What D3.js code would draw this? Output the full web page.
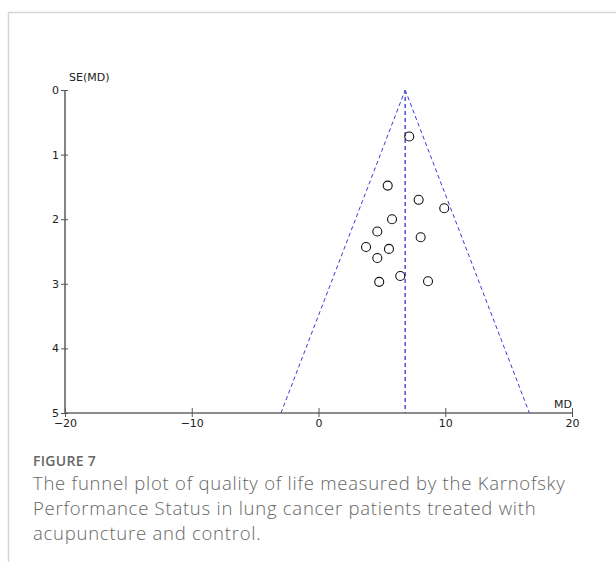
<!DOCTYPE html>
<html lang="en">
<head>
    <meta charset="utf-8">
    <title>Funnel plot</title>
    <script src="https://d3js.org/d3.v7.min.js"></script>
    <style>
        body { margin: 0; background: #fff; }
        svg text { font-family: "DejaVu Sans", Verdana, sans-serif; }
        .caption { font-family: "Open Sans", sans-serif; fill: #666; }
    </style>
</head>
<body>
    <svg></svg>

    <script>
        // study estimates: mean difference and its SE
        var md = [7.16, 5.46, 7.90, 9.92, 5.80, 4.64, 8.06, 3.75, 5.56, 4.64, 6.45, 4.79, 8.64];
        var se = [0.72, 1.48, 1.70, 1.83, 2.00, 2.19, 2.28, 2.43, 2.46, 2.60, 2.88, 2.97, 2.96];
        var pooledMD = 6.84;
        var xTicks = [-20, -10, 0, 10, 20];
        var yTicks = [0, 1, 2, 3, 4, 5];
        var captionTitle = "FIGURE 7";
        var captionLines = [
            "The funnel plot of quality of life measured by the Karnofsky",
            "Performance Status in lung cancer patients treated with",
            "acupuncture and control."
        ];

        var width = 616;
        var height = 562;
        var plot = { left: 65, right: 572, top: 90, bottom: 413 };

        var svg = d3.select("svg")
            .attr("width", width)
            .attr("height", height);

        // frame lines of the figure panel
        svg.append("line")
            .attr("x1", 8.5).attr("x2", width)
            .attr("y1", 12.5).attr("y2", 12.5)
            .attr("stroke", "#d6d6d6").attr("stroke-width", 1.5);
        svg.append("line")
            .attr("x1", 8.5).attr("x2", 8.5)
            .attr("y1", 12).attr("y2", height)
            .attr("stroke", "#d6d6d6").attr("stroke-width", 1.5);

        var xscale = d3.scaleLinear()
            .domain([-20, 20])
            .range([plot.left, plot.right]);
        var yscale = d3.scaleLinear()
            .domain([0, 5])
            .range([plot.top, plot.bottom]);

        // funnel (95% pseudo confidence limits)
        var funnel = [
            [pooledMD - 1.96 * 5, 5],
            [pooledMD, 0],
            [pooledMD + 1.96 * 5, 5]
        ];
        var line = d3.line()
            .x(function (d) { return xscale(d[0]); })
            .y(function (d) { return yscale(d[1]); });

        svg.append("path")
            .datum(funnel.slice(0, 2))
            .attr("d", line)
            .attr("fill", "none")
            .attr("stroke", "#3a3ad6")
            .attr("stroke-width", 1)
            .attr("stroke-dasharray", "4,3");
        svg.append("path")
            .datum(funnel.slice(1))
            .attr("d", line)
            .attr("fill", "none")
            .attr("stroke", "#3a3ad6")
            .attr("stroke-width", 1)
            .attr("stroke-dasharray", "4,3");
        svg.append("path")
            .datum([[pooledMD, 0], [pooledMD, 5]])
            .attr("d", line)
            .attr("fill", "none")
            .attr("stroke", "#5a5ae0")
            .attr("stroke-width", 1.6)
            .attr("stroke-dasharray", "4,3");

        // axes
        var xaxis = d3.axisBottom(xscale)
            .tickValues(xTicks)
            .tickSize(4)
            .tickFormat(d3.format("d"));
        var yaxis = d3.axisLeft(yscale)
            .tickValues(yTicks)
            .tickSize(4)
            .tickFormat(d3.format("d"));

        var gx = svg.append("g")
            .attr("transform", "translate(0," + plot.bottom + ")")
            .call(xaxis);
        var gy = svg.append("g")
            .attr("transform", "translate(" + plot.left + ",0)")
            .call(yaxis);

        [gx, gy].forEach(function (g) {
            g.select(".domain").attr("stroke", "#666").attr("stroke-width", 1.6);
            g.selectAll(".tick line").attr("stroke", "#555");
            g.selectAll(".tick text")
                .attr("fill", "#222")
                .style("font-size", "11px");
        });
        gx.select(".domain").attr("d", "M" + plot.left + ",0H" + plot.right);
        gy.select(".domain").attr("d", "M0," + plot.top + "V" + plot.bottom);
        // ticks cross the axis line
        gx.selectAll(".tick line").attr("y1", -5).attr("y2", 4);
        gy.selectAll(".tick line").attr("x1", 3).attr("x2", -4);
        gx.selectAll(".tick text").attr("y", 6);
        gy.selectAll(".tick text").attr("x", -6);

        svg.append("text")
            .attr("x", plot.left + 4)
            .attr("y", plot.top - 9)
            .style("font-size", "11px")
            .attr("fill", "#222")
            .text("SE(MD)");
        svg.append("text")
            .attr("x", plot.right)
            .attr("y", plot.bottom - 5)
            .attr("text-anchor", "end")
            .style("font-size", "11px")
            .attr("fill", "#222")
            .text("MD");

        // studies
        svg.selectAll("circle.study")
            .data(md)
            .enter()
            .append("circle")
            .attr("class", "study")
            .attr("cx", function (d) { return xscale(d); })
            .attr("cy", function (d, i) { return yscale(se[i]); })
            .attr("r", 4.5)
            .attr("fill", "none")
            .attr("stroke", "#111")
            .attr("stroke-width", 1.1);

        // caption
        svg.append("text")
            .attr("class", "caption")
            .attr("x", 33)
            .attr("y", 466)
            .style("font-size", "14px")
            .style("font-weight", 600)
            .style("letter-spacing", "0.3px")
            .text(captionTitle);
        svg.selectAll("text.cap-line")
            .data(captionLines)
            .enter()
            .append("text")
            .attr("class", "caption cap-line")
            .attr("x", 33)
            .attr("y", function (d, i) { return 490 + i * 25; })
            .style("font-size", "18.5px")
            .style("font-weight", 300)
            .style("letter-spacing", "0.75px")
            .text(function (d) { return d; });
    </script>
</body>
</html>
